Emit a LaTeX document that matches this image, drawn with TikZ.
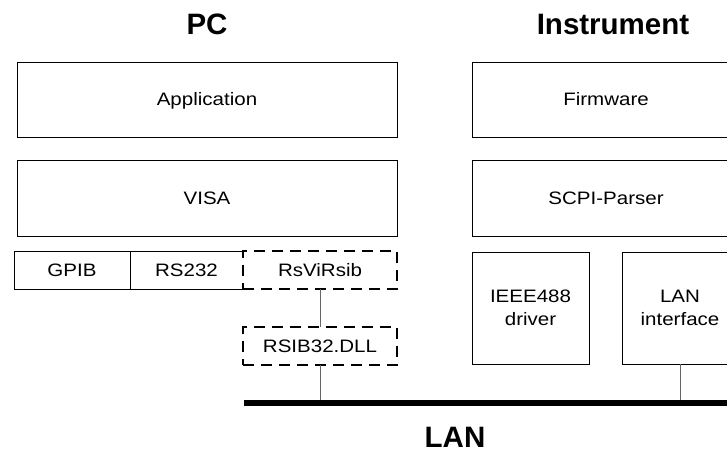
\documentclass[tikz,border=0pt]{standalone}
\usepackage{fontspec}
\setmainfont{Liberation Sans}
\newfontfamily\lblfont[FakeStretch=1.14]{Liberation Sans}
\begin{document}
\begin{tikzpicture}[x=1pt,y=-1pt,
  box/.style={draw=black, line width=0.8pt, inner sep=0pt, outer sep=0pt,
    font=\lblfont\fontsize{18}{23}\selectfont, align=center},
  one/.style={text height=12.9pt, text depth=0pt},
  dbox/.style={box, one, line width=2.6pt, dash pattern=on 11pt off 7pt, fill=white},
  title/.style={font=\bfseries\fontsize{29.5}{34}\selectfont, anchor=base, inner sep=0pt},
  link/.style={draw=black!60, line width=0.9pt},
  edge/.style={draw=black, line width=0.8pt}]
\useasboundingbox (0,0) rectangle (727,451);
\clip (0,0) rectangle (727,451);

% titles
\node[title] (pc) at (207,34) {PC};
\node[title] (inst) at (613,34) {Instrument};
\node[title] (lan) at (455,447) {LAN};

% PC stack
\node[box, one, minimum width=380pt, minimum height=75pt] (app) at (207,99.5) {Application};
\node[box, one, minimum width=380pt, minimum height=76pt] (visa) at (207,198) {VISA};
\node[box, one, minimum width=116pt, minimum height=38pt] (gpib) at (72,270) {GPIB};
\node[box, one, draw=none, minimum width=113pt, minimum height=38pt] (rs) at (186.5,270) {RS232};
\draw[edge] (rs.north east) -- (rs.north west) (rs.south west) -- (rs.south east);
\node[dbox, minimum width=154pt, minimum height=38pt] (rsvi) at (320,270) {RsViRsib};
\node[dbox, minimum width=154pt, minimum height=38pt] (rsib) at (320,346) {RSIB32.DLL};

% Instrument stack
\node[box, one, minimum width=268pt, minimum height=75pt] (fw) at (606,99.5) {Firmware};
\node[box, one, minimum width=268pt, minimum height=76pt] (scpi) at (606,198) {SCPI-Parser};
\node[box, minimum width=117pt, minimum height=112pt] (ieee) at (530.5,308) {IEEE488\\driver};
\node[box, minimum width=116pt, minimum height=112pt] (lanif) at (680,308) {LAN\\interface};

% LAN bus
\coordinate (busL) at (244,403);
\coordinate (busR) at (740,403);
\draw[link] (rsvi.south) -- (rsib.north);
\draw[link] (rsib.south) -- (rsib.south |- busL);
\draw[link] (lanif.south) -- (lanif.south |- busL);
\draw[line width=6.5pt] (busL) -- (busR);
\end{tikzpicture}
\end{document}
